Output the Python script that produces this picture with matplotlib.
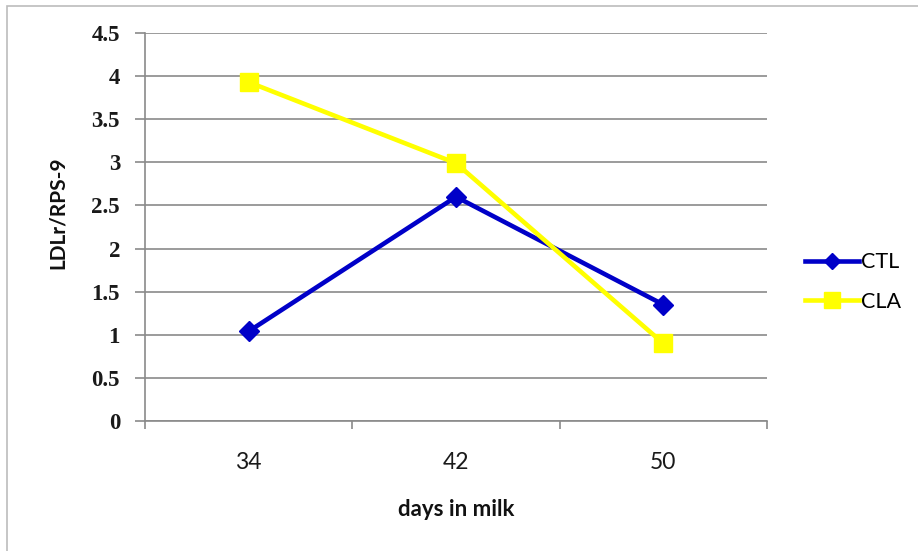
import matplotlib.pyplot as plt
from matplotlib.patches import Rectangle

days = ["34", "42", "50"]
ctl = [1.04, 2.60, 1.35]
cla = [3.93, 2.99, 0.90]
y_ticks = [0, 0.5, 1, 1.5, 2, 2.5, 3, 3.5, 4, 4.5]

W, H = 918, 551
fig = plt.figure(figsize=(W / 100, H / 100), dpi=100)
fig.patch.set_facecolor("white")

# light frame around the chart area, running off the right and bottom
fig.patches.append(
    Rectangle((7 / W, -0.05), 1.1, 1 - 6 / H + 0.05, transform=fig.transFigure,
              facecolor="none", edgecolor="#bcbcbc", linewidth=1.2)
)

ax = fig.add_axes([145 / W, 1 - 421 / H, (767 - 145) / W, (421 - 33) / H])

pos = [i + 0.5 for i in range(len(days))]
ax.plot(pos, ctl, color="#0000c8", lw=3.3, marker="D", markersize=10,
        label="CTL", clip_on=False, zorder=3)
ax.plot(pos, cla, color="#ffff00", lw=3.3, marker="s", markersize=13.5,
        label="CLA", clip_on=False, zorder=3)

ax.set_xlim(0, len(days))
ax.set_ylim(0, 4.5)
ax.set_yticks(y_ticks)
ax.set_yticklabels([f"{t:g}" for t in y_ticks], family="Liberation Serif",
                   fontweight="bold", fontsize=16.5, color="#1a1a1a")
ax.yaxis.grid(True, color="#8a8a8a", linewidth=1.2)
ax.set_axisbelow(True)

ax.set_xticks(range(len(days) + 1))
ax.set_xticklabels([])
ax.set_xticks(pos, minor=True)
ax.set_xticklabels(days, minor=True, family="Lato", fontsize=16.5,
                   color="#1a1a1a")
ax.tick_params(axis="x", which="minor", length=0, pad=22)
ax.tick_params(axis="x", which="major", length=6, color="#8a8a8a", width=1.2)
ax.tick_params(axis="y", length=7, color="#8a8a8a", width=1.2, pad=11)

for side in ("top", "right"):
    ax.spines[side].set_visible(False)
for side in ("left", "bottom"):
    ax.spines[side].set_color("#8a8a8a")
    ax.spines[side].set_linewidth(1.2)

ax.set_xlabel("days in milk", family="Lato", fontweight="bold", fontsize=16,
              color="#111111", va="center")
ax.xaxis.set_label_coords(0.5, (421 - 510) / 388)
ax.set_ylabel("LDLr/RPS-9", family="Lato", fontweight="bold", fontsize=15,
              color="#111111", va="center")
ax.yaxis.set_label_coords((58 - 145) / 622, (421 - 213) / 388)

ax.legend(loc="center left", bbox_to_anchor=(805 / W, 1 - 282 / H),
          bbox_transform=fig.transFigure, frameon=False, borderpad=0,
          borderaxespad=0, handlelength=2.5, handletextpad=0.1,
          labelspacing=0.9, markerscale=0.85,
          prop={"family": "Lato", "size": 15.5})

fig.savefig("out.png", dpi=100)
